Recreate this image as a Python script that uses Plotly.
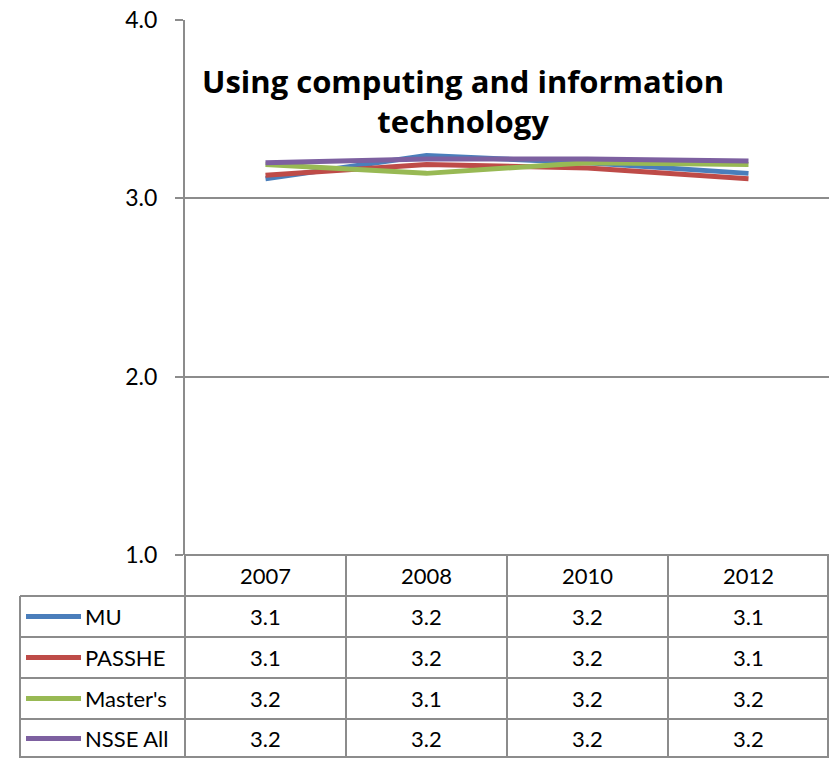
import plotly.graph_objects as go

years = ["2007", "2008", "2010", "2012"]
series_names = ["MU", "PASSHE", "Master's", "NSSE All"]
mu = [3.11, 3.24, 3.20, 3.14]
passhe = [3.13, 3.19, 3.17, 3.11]
masters = [3.19, 3.14, 3.20, 3.19]
nsse_all = [3.20, 3.22, 3.22, 3.21]
series_values = [mu, passhe, masters, nsse_all]
colors = ["#4A7EBB", "#BE4B48", "#98B954", "#7D60A0"]
title_text = "Using computing and information<br>technology"

W, H = 829, 758
FONT = "Lato"
TFONT = "Open Sans"
GRID = "#8C8C8C"

# layout geometry (pixels)
px_left, px_right = 185, 829
px_top, px_bottom = 20, 555
row_edges = [555, 596, 637, 678, 719, 758]
table_left = 20


def px(x):
    return x / W


def py(y):
    return 1 - y / H


fig = go.Figure()
for name, vals, col in zip(series_names, series_values, colors):
    fig.add_trace(go.Scatter(x=years, y=vals, name=name, mode="lines",
                             line=dict(color=col, width=5), showlegend=False))

shapes = []
annotations = []

# table horizontal lines
for i, y in enumerate(row_edges):
    x0 = px_left if i == 0 else table_left
    yy = min(y, H - 1)
    shapes.append(dict(type="line", xref="paper", yref="paper", x0=px(x0), x1=px(W),
                       y0=py(yy), y1=py(yy), line=dict(color=GRID, width=2)))
# table vertical lines
col_w = (px_right - px_left) / len(years)
for j in range(len(years) + 1):
    x = min(px_left + j * col_w, W - 1)
    shapes.append(dict(type="line", xref="paper", yref="paper", x0=px(x), x1=px(x),
                       y0=py(row_edges[0]), y1=py(row_edges[-1]), line=dict(color=GRID, width=2)))
shapes.append(dict(type="line", xref="paper", yref="paper", x0=px(table_left), x1=px(table_left),
                   y0=py(row_edges[1]), y1=py(row_edges[-1]), line=dict(color=GRID, width=2)))

# header row: year labels positioned through the x axis scale
hdr_c = (row_edges[0] + row_edges[1]) / 2
for k, yr in enumerate(years):
    annotations.append(dict(x=k, xref="x", y=py(hdr_c), yref="paper", text=yr, showarrow=False,
                            font=dict(family=FONT, size=22, color="#000000"), xanchor="center", yanchor="middle"))

# data rows
for i, (name, vals, col) in enumerate(zip(series_names, series_values, colors)):
    yc = (row_edges[i + 1] + row_edges[i + 2]) / 2
    shapes.append(dict(type="line", xref="paper", yref="paper", x0=px(26), x1=px(81),
                       y0=py(yc), y1=py(yc), line=dict(color=col, width=5)))
    annotations.append(dict(x=px(83), xref="paper", y=py(yc), yref="paper", text=name, showarrow=False,
                            font=dict(family=FONT, size=22, color="#000000"), xanchor="left", yanchor="middle"))
    for k, v in enumerate(vals):
        annotations.append(dict(x=k, xref="x", y=py(yc), yref="paper", text=f"{v:.1f}", showarrow=False,
                                font=dict(family=FONT, size=22, color="#000000"), xanchor="center", yanchor="middle"))

# title
annotations.append(dict(x=px(463), xref="paper", y=py(101), yref="paper", text=title_text, showarrow=False,
                        font=dict(family=TFONT, size=31, color="#000000", weight="bold"),
                        xanchor="center", yanchor="middle", align="center"))

fig.update_layout(
    width=W, height=H,
    margin=dict(l=0, r=0, t=0, b=0, pad=0),
    paper_bgcolor="white", plot_bgcolor="white",
    xaxis=dict(domain=[px(px_left), 1], type="category", range=[-0.5, 3.5], automargin=False,
               showticklabels=False, showgrid=False, zeroline=False, showline=False, ticks=""),
    yaxis=dict(domain=[py(px_bottom), py(px_top)], range=[1, 4], dtick=1, tick0=1, tickformat=".1f",
               automargin=False,
               showgrid=True, gridcolor=GRID, gridwidth=2, zeroline=False,
               showline=True, linecolor=GRID, linewidth=2, ticks="outside", ticklen=8, tickcolor=GRID,
               tickwidth=2, tickfont=dict(family=FONT, size=23, color="#000000"), ticklabelstandoff=13),
    shapes=shapes, annotations=annotations,
)

fig.write_html("out.html", config={"displayModeBar": False},
               post_script="document.body.style.margin='0';document.body.style.overflow='hidden';")
